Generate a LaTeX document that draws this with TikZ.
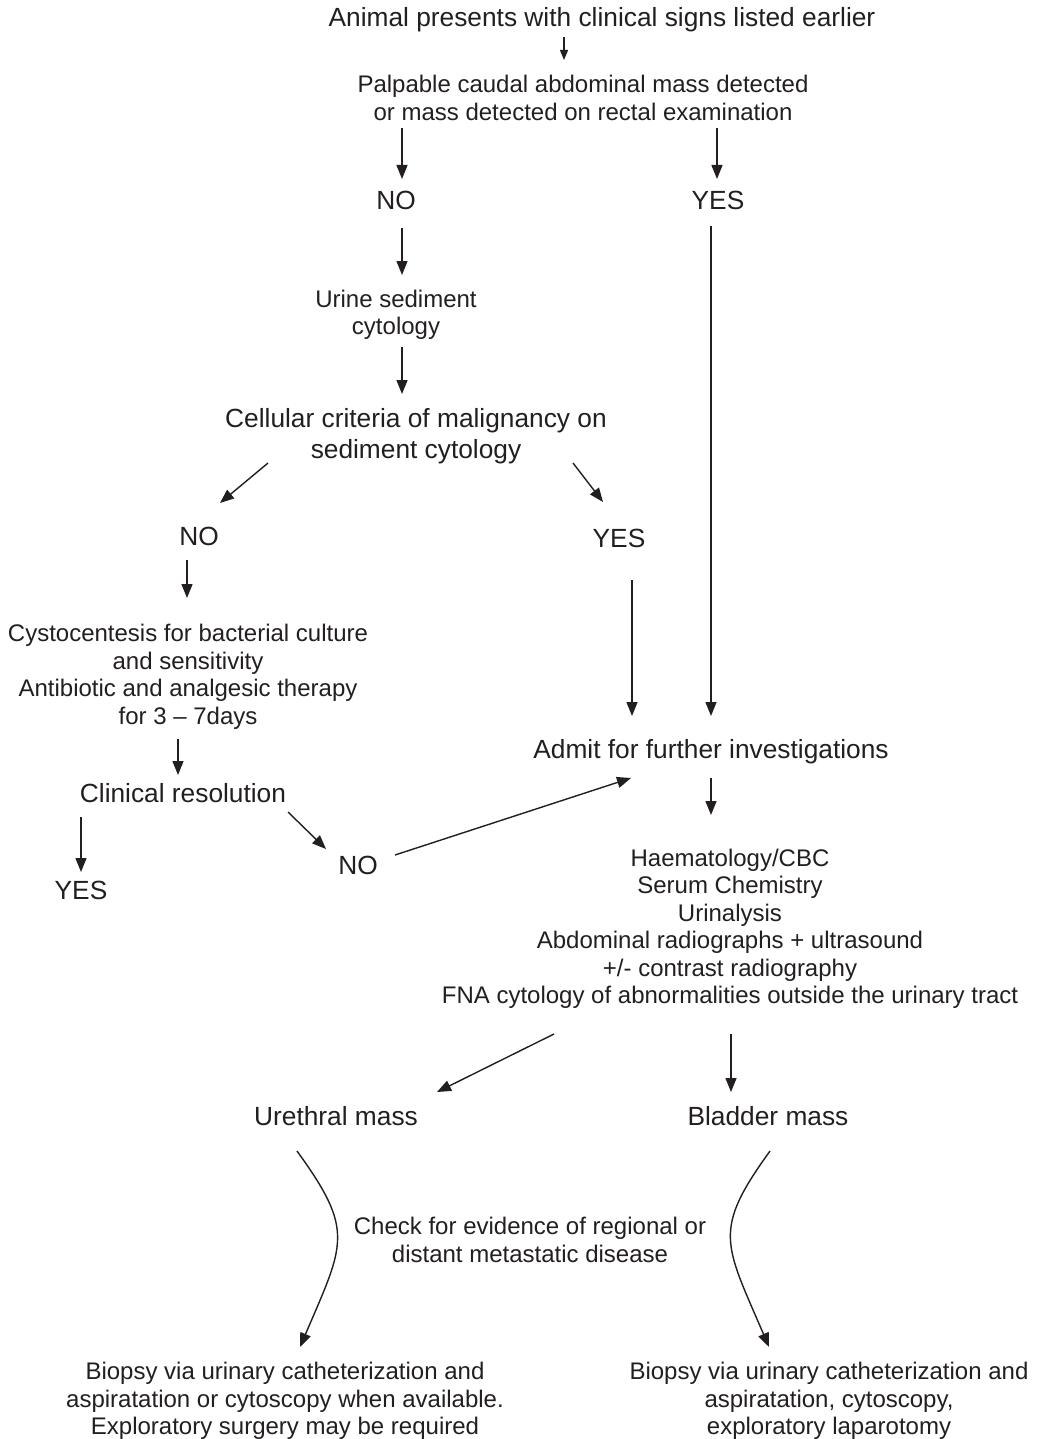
\documentclass[tikz,border=0pt]{standalone}
\usepackage{fontspec}
\setmainfont{Liberation Sans}
\usetikzlibrary{arrows.meta,calc}
\definecolor{ink}{RGB}{35,31,32}
\begin{document}
\begin{tikzpicture}[x=1pt,y=-1pt,
  every node/.style={inner sep=0pt, outer sep=0pt, text=ink, align=center},
  big/.style={font=\fontsize{26.3}{31}\selectfont},
  small/.style={font=\fontsize{24}{27.5}\selectfont},
  arr/.style={draw=ink, line width=1.4pt, -{Triangle[length=14pt,width=11pt]}},
  sarr/.style={draw=ink, line width=1.2pt, -{Triangle[length=10pt,width=8pt]}},
]
\useasboundingbox[fill=white] (0,0) rectangle (1036,1439);

% nodes
\node[big]   (top)    at (602,20)    {Animal presents with clinical signs listed earlier};
\node[small] (palp)   at (583,98)    {Palpable caudal abdominal mass detected\\or mass detected on rectal examination};
\node[big]   (no1)    at (396,200)   {NO};
\node[big]   (yes1)   at (718,200)   {YES};
\node[small] (urine)  at (396,315)   {Urine sediment\\cytology};
\node[big]   (cell)   at (416,436)   {Cellular criteria of malignancy on\\sediment cytology};
\node[big]   (no2)    at (199,536)   {NO};
\node[big]   (yes2)   at (619,538)   {YES};
\node[small] (cysto)  at (188,677)   {Cystocentesis for bacterial culture\\and sensitivity\\Antibiotic and analgesic therapy\\for 3 -- 7days};
\node[big]   (clin)   at (183,793)   {Clinical resolution};
\node[big]   (yes3)   at (81,890)    {YES};
\node[big]   (no3)    at (358,865)   {NO};
\node[big]   (admit)  at (711,752)   {Admit for further investigations};
\node[small] (inv)    at (730,929)   {Haematology/CBC\\Serum Chemistry\\Urinalysis\\Abdominal radiographs + ultrasound\\+/- contrast radiography\\FNA cytology of abnormalities outside the urinary tract};
\node[big]   (ureth)  at (336,1116)  {Urethral mass};
\node[big]   (blad)   at (768,1116)  {Bladder mass};
\node[small] (check)  at (530,1240)  {Check for evidence of regional or\\distant metastatic disease};
\node[small] (biopl)  at (285,1401)  {Biopsy via urinary catheterization and\\aspiratation or cytoscopy when available.\\Exploratory surgery may be required};
\node[small] (biopr)  at (829,1401)  {Biopsy via urinary catheterization and\\aspiratation, cytoscopy,\\exploratory laparotomy};

% connectors
\draw[sarr] ($(top.center)+(-38,17)$) -- ($(palp.center)+(-19,-38)$);
\draw[arr] ($(palp.center)+(-181,30)$) -- ($(no1.center)+(6,-21)$);
\draw[arr] ($(palp.center)+(134,30)$) -- ($(yes1.center)+(-1,-21)$);
\draw[arr] ($(no1.center)+(6,28)$) -- ($(urine.center)+(6,-40)$);
\draw[arr] ($(yes1.center)+(-7,26)$) -- ($(admit.center)+(0,-36)$);
\draw[arr] ($(urine.center)+(6,32)$) -- ($(cell.center)+(-14,-42)$);
\draw[arr] ($(cell.center)+(-148,27)$) -- ($(no2.center)+(21,-33)$);
\draw[arr] ($(cell.center)+(157,27)$) -- ($(yes2.center)+(-16,-36)$);
\draw[arr] ($(yes2.center)+(13,42)$) -- ($(admit.center)+(-79,-36)$);
\draw[arr] ($(no2.center)+(-12,24)$) -- ($(cysto.center)+(-1,-79)$);
\draw[arr] ($(cysto.center)+(-10,62)$) -- ($(clin.center)+(-5,-18)$);
\draw[arr] ($(clin.center)+(-102,24)$) -- ($(yes3.center)+(0,-18)$);
\draw[arr] ($(clin.center)+(105,19)$) -- ($(no3.center)+(-32,-16)$);
\draw[arr] ($(no3.center)+(37,-10)$) -- ($(admit.center)+(-80,26)$);
\draw[arr] ($(admit.center)+(0,26)$) -- ($(inv.center)+(-19,-114)$);
\draw[arr] ($(inv.center)+(-176,105)$) -- ($(ureth.center)+(101,-24)$);
\draw[arr] ($(inv.center)+(1,105)$) -- ($(blad.center)+(-37,-24)$);
\draw[arr] ($(ureth.center)+(-39,35)$) .. controls (355,1231) and (344.5,1243) .. ($(biopl.center)+(15,-54)$);
\draw[arr] ($(blad.center)+(2,35)$) .. controls (712,1231) and (724.5,1243) .. ($(biopr.center)+(-60,-54)$);
\end{tikzpicture}
\end{document}
